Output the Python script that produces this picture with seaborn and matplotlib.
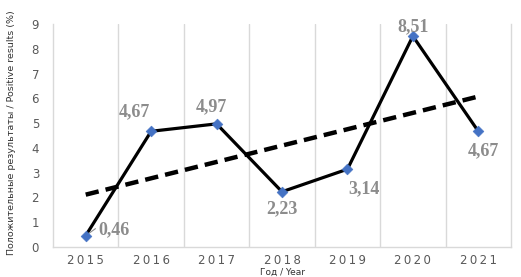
import numpy as np
import pandas as pd
import matplotlib
matplotlib.use("Agg")
import matplotlib.pyplot as plt
import seaborn as sns

years = ["2015", "2016", "2017", "2018", "2019", "2020", "2021"]
values = [0.46, 4.67, 4.97, 2.23, 3.14, 8.51, 4.67]
labels = ["0,46", "4,67", "4,97", "2,23", "3,14", "8,51", "4,67"]
yticks = [0, 1, 2, 3, 4, 5, 6, 7, 8, 9]

sns.set_theme(style="white")
plt.rcParams['font.family'] = ['DejaVu Sans']

df = pd.DataFrame({"idx": np.arange(len(years)), "val": values})
coef = np.polyfit(df["idx"], df["val"], 1)
df["trend"] = np.polyval(coef, df["idx"])

fig = plt.figure(figsize=(5.21, 2.77), dpi=100)
ax = fig.add_axes([53/521, 1 - 247/277, (511 - 53)/521, (247 - 24)/277])

sns.lineplot(data=df, x="idx", y="trend", ax=ax, color="black", lw=3.2,
             linestyle=(0, (3.0, 1.6)), zorder=2)
sns.lineplot(data=df, x="idx", y="val", ax=ax, color="black", lw=2.3, zorder=3)
sns.scatterplot(data=df, x="idx", y="val", ax=ax, marker="D", s=30,
                color="#4472C4", edgecolor="#4472C4", zorder=4)

offsets = [(9, 4, "left"), (-12, 14, "center"), (-4, 12, "center"),
           (0, -12, "center"), (12, -14, "center"), (0, 7, "center"),
           (4, -14, "center")]
for i, (lab, (dx, dy, ha)) in enumerate(zip(labels, offsets)):
    ax.annotate(lab, (i, values[i]), xytext=(dx, dy), textcoords="offset points",
                ha=ha, va="center", fontsize=13, fontweight="bold", color="#8c8c8c",
                family=["Liberation Serif"], zorder=5)
# leader line for first label
ax.annotate("", (0, values[0]), xytext=(7, 5), textcoords="offset points",
            arrowprops=dict(arrowstyle="-", color="#8c8c8c", lw=0.8, shrinkA=0, shrinkB=2))

ax.set_xlim(-0.5, 6.5)
ax.set_ylim(0, 9)
ax.set_yticks(yticks)
ax.set_yticklabels([str(t) for t in yticks])
ax.set_xticks(np.arange(len(years)))
ax.set_xticklabels(["\u2009".join(y) for y in years])
ax.set_xticks(np.arange(len(years) - 1) + 0.5, minor=True)
ax.grid(False)
ax.grid(which="minor", axis="x", color="#d9d9d9", lw=1)
ax.tick_params(axis="both", which="both", length=0, labelsize=8.5, labelcolor="#595959")
ax.tick_params(axis="x", pad=5)
ax.tick_params(axis="y", pad=10)
for s in ["left", "right", "bottom"]:
    ax.spines[s].set_color("#d9d9d9")
    ax.spines[s].set_linewidth(1)
ax.spines["top"].set_visible(False)

ax.set_xlabel("")
ax.set_ylabel("")
fig.text(282/521, 0.0, "Год / Year", fontsize=6.5, color="#333333", ha="center", va="bottom")
fig.text(12/521, 1 - 133/277, "Положительные результаты / Positive results (%)",
         fontsize=6.8, color="#333333", rotation=90, ha="center", va="center")

fig.savefig("out.png", dpi=100)
